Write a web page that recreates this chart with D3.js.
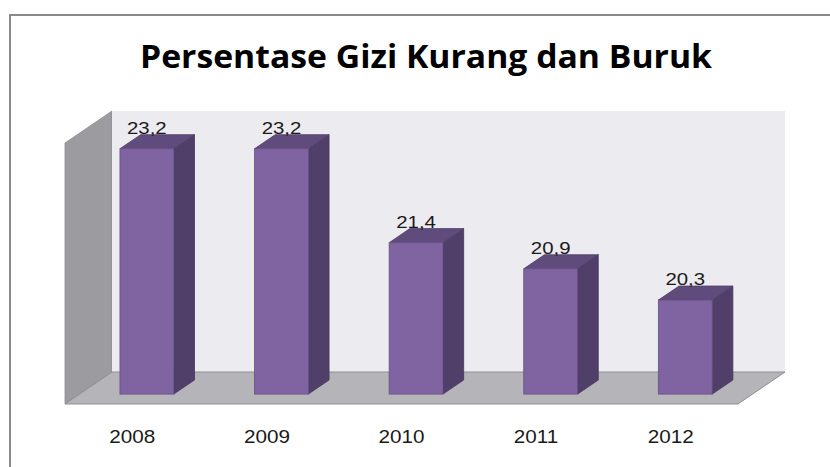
<!DOCTYPE html>
<html>
<head>
<meta charset="utf-8">
<script src="https://d3js.org/d3.v7.min.js"></script>
<style>
  body { margin: 0; background: #fff; }
  svg { display: block; }
</style>
</head>
<body>
<div id="chart"></div>
<script>
// data
const titleText = "Persentase Gizi Kurang dan Buruk";
const years = ["2008", "2009", "2010", "2011", "2012"];
const values = [23.2, 23.2, 21.4, 20.9, 20.3];
const labels = ["23,2", "23,2", "21,4", "20,9", "20,3"];

const W = 830, H = 467;

// 3d box geometry (front plane of the floor)
const floorLeft = 65, floorRight = 738, floorFront = 404;
const depthX = 47, depthY = 32;       // full depth of the floor
const barFrontDepth = 0.31, barBackDepth = 0.75;

const svg = d3.select("#chart").append("svg")
  .attr("width", W).attr("height", H);

// outer frame (only top and left visible)
svg.append("path")
  .attr("d", `M10,${H} L10,15 L${W},15`)
  .attr("fill", "none")
  .attr("stroke", "#8a8a8a")
  .attr("stroke-width", 2);

// title
svg.append("text")
  .attr("x", 426).attr("y", 68)
  .attr("text-anchor", "middle")
  .attr("font-family", "'Open Sans', 'Noto Sans', sans-serif")
  .attr("font-weight", "bold")
  .attr("font-size", 32)
  .attr("textLength", 572)
  .attr("lengthAdjust", "spacingAndGlyphs")
  .attr("fill", "#000")
  .text(titleText);

const x = d3.scaleBand()
  .domain(years)
  .range([floorLeft, floorRight])
  .paddingInner(0.6)
  .paddingOuter(0.3);

const h = d3.scaleLinear()
  .domain([18.5, 23.5])
  .range([0, 261]);

const wallH = h(23.5);
const backY = floorFront - depthY;

// left wall
svg.append("path")
  .attr("d", `M${floorLeft},${floorFront} L${floorLeft},${floorFront - wallH}
              L${floorLeft + depthX},${backY - wallH} L${floorLeft + depthX},${backY} Z`)
  .attr("fill", "#9c9b9f")
  .attr("stroke", "#8d8c90").attr("stroke-width", 0.8);

// back wall
svg.append("rect")
  .attr("x", floorLeft + depthX).attr("y", backY - wallH)
  .attr("width", floorRight - floorLeft).attr("height", wallH)
  .attr("fill", "#ecebf0");

// floor
svg.append("path")
  .attr("d", `M${floorLeft},${floorFront} L${floorRight},${floorFront}
              L${floorRight + depthX},${backY} L${floorLeft + depthX},${backY} Z`)
  .attr("fill", "#b5b4b8")
  .attr("stroke", "#8f8e92").attr("stroke-width", 1);

// bars
const fx = barFrontDepth * depthX, fy = barFrontDepth * depthY;
const bx = (barBackDepth - barFrontDepth) * depthX, by = (barBackDepth - barFrontDepth) * depthY;
const bw = x.bandwidth();

const bars = svg.append("g").selectAll("g")
  .data(years.map((y, i) => ({ year: y, value: values[i], label: labels[i] })))
  .join("g");

bars.each(function(d) {
  const g = d3.select(this);
  const x0 = x(d.year) + fx;
  const yb = floorFront - fy;
  const yt = yb - h(d.value);
  // side
  g.append("path")
    .attr("d", `M${x0 + bw},${yb} L${x0 + bw},${yt} L${x0 + bw + bx},${yt - by} L${x0 + bw + bx},${yb - by} Z`)
    .attr("fill", "#503f69").attr("stroke", "#45365c").attr("stroke-width", 0.8);
  // top
  g.append("path")
    .attr("d", `M${x0},${yt} L${x0 + bw},${yt} L${x0 + bw + bx},${yt - by} L${x0 + bx},${yt - by} Z`)
    .attr("fill", "#604b7d").attr("stroke", "#4f3e67").attr("stroke-width", 0.8);
  // front
  g.append("rect")
    .attr("x", x0).attr("y", yt)
    .attr("width", bw).attr("height", yb - yt)
    .attr("fill", "#8064a2").attr("stroke", "#654f85").attr("stroke-width", 0.8);
  // value label
  g.append("text")
    .attr("transform", `translate(${x0 + bw / 2},${yt - 15}) scale(1.2,1)`)
    .attr("text-anchor", "middle")
    .attr("font-family", "'Liberation Sans', Arial, sans-serif")
    .attr("font-size", 17)
    .attr("fill", "#1a1a1a")
    .text(d.label);
});

// category labels
svg.append("g").selectAll("text")
  .data(years)
  .join("text")
  .attr("transform", d => `translate(${x(d) + bw / 2},443) scale(1.15,1)`)
  .attr("text-anchor", "middle")
  .attr("font-family", "'Liberation Sans', Arial, sans-serif")
  .attr("font-size", 18)
  .attr("fill", "#1a1a1a")
  .text(d => d);
</script>
</body>
</html>
